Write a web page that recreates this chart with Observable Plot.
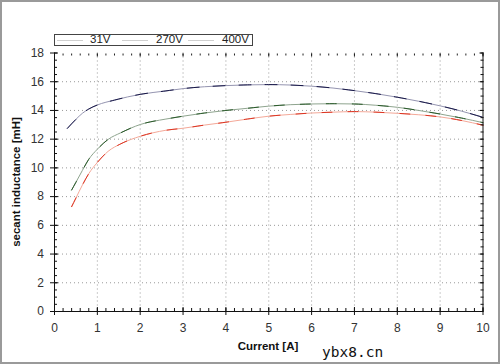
<!DOCTYPE html>
<html><head><meta charset="utf-8">
<script src="https://cdn.jsdelivr.net/npm/d3@7"></script>
<script src="https://cdn.jsdelivr.net/npm/@observablehq/plot@0.6"></script>
<style>
body{margin:0;background:#fff;}
#wrap{position:relative;width:500px;height:364px;font-family:"Liberation Sans",Arial,sans-serif;color:#222;overflow:hidden;}
#wrap svg{position:absolute;left:0;top:0;}
#border{position:absolute;left:0;top:0;width:500px;height:364px;box-sizing:border-box;border:2px solid #9a9a9a;pointer-events:none;}
#legend{position:absolute;left:54px;top:34px;width:199px;height:12px;box-sizing:border-box;border:1px solid #444;font-size:11.5px;background:#fff;}
#legend .s{position:absolute;top:5px;height:0;border-top:1px solid #d0d0d0;}
#legend .t{position:absolute;top:-2px;line-height:13px;color:#222;}
.lab{position:absolute;font-weight:bold;font-size:11.5px;color:#111;white-space:nowrap;}
#wm{position:absolute;left:322px;top:344px;font-family:"DejaVu Sans Mono",monospace;font-size:14.5px;color:#111;}
</style>
</head><body>
<div id="wrap"></div>
<script>
// ---- data ----
const seriesNames = ["31V", "270V", "400V"];
const current31  = [0.3, 0.5, 0.65, 0.8, 1.0, 1.4, 2, 2.6, 3, 3.5, 4, 4.5, 5, 5.5, 6, 6.5, 7, 7.5, 8, 8.5, 9, 9.5, 10];
const induct31   = [12.75, 13.38, 13.8, 14.1, 14.38, 14.72, 15.12, 15.36, 15.52, 15.65, 15.73, 15.78, 15.8, 15.77, 15.69, 15.56, 15.38, 15.17, 14.92, 14.64, 14.32, 13.95, 13.52];
const current270 = [0.4, 0.5, 0.65, 0.8, 1.0, 1.25, 1.55, 2, 2.6, 3, 3.5, 4, 4.5, 5, 5.5, 6, 6.5, 7, 7.5, 8, 8.5, 9, 9.5, 10];
const induct270  = [8.46, 9.0, 9.82, 10.6, 11.3, 11.98, 12.45, 13.02, 13.4, 13.6, 13.82, 14.0, 14.15, 14.3, 14.4, 14.45, 14.47, 14.45, 14.36, 14.22, 14.0, 13.75, 13.47, 13.15];
const current400 = [0.4, 0.5, 0.65, 0.8, 1.0, 1.25, 1.55, 2, 2.6, 3, 3.5, 4, 4.5, 5, 5.5, 6, 6.5, 7, 7.5, 8, 8.5, 9, 9.5, 10];
const induct400  = [7.3, 7.9, 8.8, 9.6, 10.38, 11.15, 11.68, 12.2, 12.62, 12.76, 12.98, 13.18, 13.4, 13.6, 13.72, 13.82, 13.88, 13.92, 13.88, 13.8, 13.7, 13.55, 13.3, 12.97];
const xMajorTicks = [0, 1, 2, 3, 4, 5, 6, 7, 8, 9, 10];
const xMinorTicks = d3.range(0, 10.001, 0.2).map(v => +v.toFixed(1));
const yMajorTicks = [0, 2, 4, 6, 8, 10, 12, 14, 16, 18];
const yMinorTicks = d3.range(0, 18.001, 0.5);
const xGridTicks = [1, 2, 3, 4, 5, 6, 7, 8, 9];
const yGridTicks = [2, 4, 6, 8, 10, 12, 14, 16];
const xLabel = "Current [A]";
const yLabel = "secant inductance [mH]";

const toRows = (xs, ys, name) => xs.map((x, i) => ({current: x, L: ys[i], series: name}));
const d31 = toRows(current31, induct31, seriesNames[0]);
const d270 = toRows(current270, induct270, seriesNames[1]);
const d400 = toRows(current400, induct400, seriesNames[2]);

const styles = [
  {data: d31, base: "#9494b0", dark: "#181848", dash: "12,14"},
  {data: d270, base: "#8ea48e", dark: "#2a5a2a", dash: "10,16"},
  {data: d400, base: "#f4a898", dark: "#dc3422", dash: "10,16"}
];

const lineMarks = styles.flatMap(s => [
  Plot.line(s.data, {x: "current", y: "L", stroke: s.base, strokeWidth: 1, curve: "monotone-x"}),
  Plot.line(s.data, {x: "current", y: "L", stroke: s.dark, strokeWidth: 1, strokeDasharray: s.dash, curve: "monotone-x"})
]);

const fmt = d => String(d);
const chart = Plot.plot({
  width: 500, height: 364,
  marginLeft: 54, marginRight: 17.5, marginTop: 52.5, marginBottom: 53,
  style: {fontFamily: "Liberation Sans, Arial, sans-serif", fontSize: "12px", color: "#333", background: "transparent"},
  x: {domain: [0, 10], label: null},
  y: {domain: [0, 18], label: null},
  marks: [
    Plot.gridX(xGridTicks, {stroke: "#999", strokeOpacity: 1, strokeDasharray: "1,3"}),
    Plot.gridY(yGridTicks, {stroke: "#999", strokeOpacity: 1, strokeDasharray: "1,3"}),
    ...lineMarks,
    // bottom
    Plot.axisX(xMinorTicks, {anchor: "bottom", tickSize: -3, text: null, label: null, stroke: "#111"}),
    Plot.axisX(xMajorTicks, {anchor: "bottom", tickSize: -4, text: null, label: null, stroke: "#111"}),
    Plot.axisX(xMajorTicks, {anchor: "bottom", tickSize: 4, tickPadding: 8, tickFormat: fmt, label: null, stroke: "#111", fill: "#333"}),
    // top
    Plot.axisX(xMinorTicks, {anchor: "top", tickSize: -2, text: null, label: null, stroke: "#222"}),
    Plot.axisX(xMajorTicks, {anchor: "top", tickSize: -3, text: null, label: null, stroke: "#222"}),
    // left
    Plot.axisY(yMinorTicks, {anchor: "left", tickSize: -3, text: null, label: null, stroke: "#111"}),
    Plot.axisY(yMajorTicks, {anchor: "left", tickSize: -4, text: null, label: null, stroke: "#111"}),
    Plot.axisY(yMajorTicks, {anchor: "left", tickSize: 4, tickPadding: 6.5, tickFormat: fmt, label: null, stroke: "#111", fill: "#333"}),
    // right
    Plot.axisY(yMinorTicks, {anchor: "right", tickSize: -3, text: null, label: null, stroke: "#111"}),
    Plot.axisY(yMajorTicks, {anchor: "right", tickSize: -4, text: null, label: null, stroke: "#111"}),
    // frame lines
    Plot.ruleX([0, 10], {stroke: "#111"}),
    Plot.ruleY([0], {stroke: "#111"})
  ]
});

const wrap = document.getElementById("wrap");
wrap.appendChild(chart);

// legend
const legend = document.createElement("div");
legend.id = "legend";
const samplePos = [[2, 26, 35], [67, 26, 101], [133, 26, 167]];
seriesNames.forEach((name, i) => {
  const [sx, sw, tx] = samplePos[i];
  const s = document.createElement("div");
  s.className = "s"; s.style.left = sx + "px"; s.style.width = sw + "px";
  const t = document.createElement("div");
  t.className = "t"; t.style.left = tx + "px"; t.textContent = name;
  legend.appendChild(s); legend.appendChild(t);
});
wrap.appendChild(legend);

const xl = document.createElement("div");
xl.className = "lab"; xl.textContent = xLabel;
xl.style.left = "268px"; xl.style.top = "340px"; xl.style.transform = "translateX(-50%)";
wrap.appendChild(xl);

const yl = document.createElement("div");
yl.className = "lab"; yl.textContent = yLabel;
yl.style.left = "16px"; yl.style.top = "182px";
yl.style.transform = "translate(-50%,-50%) rotate(-90deg)";
wrap.appendChild(yl);

const wm = document.createElement("div");
wm.id = "wm"; wm.textContent = "ybx8.cn";
wrap.appendChild(wm);

const border = document.createElement("div");
border.id = "border";
wrap.appendChild(border);
</script>
</body></html>
